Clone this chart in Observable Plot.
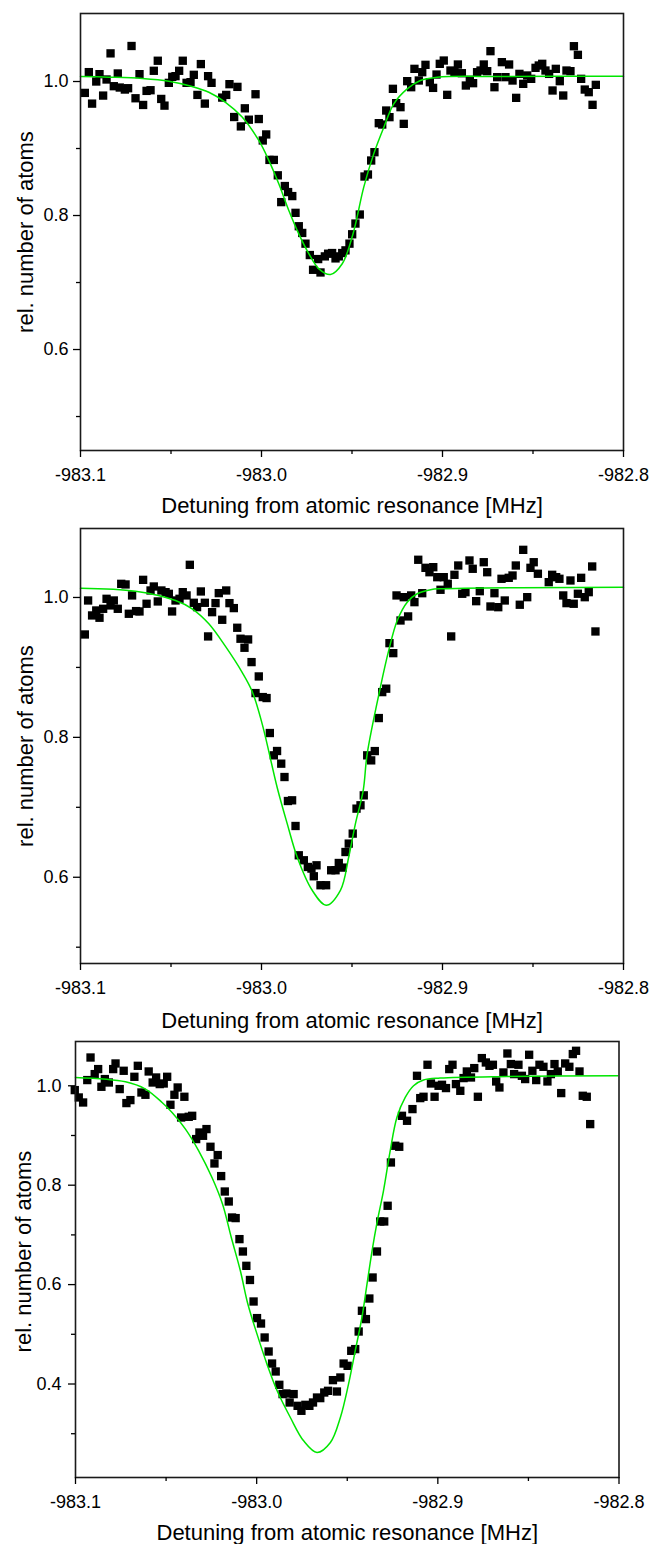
<!DOCTYPE html>
<html>
<head>
<meta charset="utf-8">
<script src="https://cdn.jsdelivr.net/npm/d3@7"></script>
<script src="https://cdn.jsdelivr.net/npm/@observablehq/plot@0.6"></script>
<style>
  html, body { margin: 0; padding: 0; background: #fff; }
  #chart svg { display: block; }
</style>
</head>
<body>
<div id="chart"></div>
<script>
// ---------- shared labels / ticks ----------
const xTitle = "Detuning from atomic resonance [MHz]";
const yTitle = "rel. number of atoms";
const xMajorTicks = [-983.1, -983.0, -982.9, -982.8];
const xMinorTicks = [-983.05, -982.95, -982.85];
const xDomain = [-983.1, -982.8];

// ---------- panel 1 ----------
const p1x = [-983.0976,-983.0954,-983.0936,-983.0913,-983.0895,-983.0875,-983.0856,-983.0834,-983.0816,-983.0794,
-983.0783,-983.0755,-983.0737,-983.0718,-983.0696,-983.0674,-983.0654,-983.0635,-983.0613,-983.0595,
-983.0573,-983.0554,-983.0536,-983.0512,-983.0493,-983.0475,-983.0455,-983.0435,-983.0414,-983.0392,
-983.0374,-983.0354,-983.0335,-983.0313,-983.0295,-983.0276,-983.0217,-983.0195,-983.0177,-983.0151,
-983.0133,-983.0114,-983.0092,-983.0070,-983.0033,-983.0015,-982.9993,-982.9974,-982.9956,-982.9932,
-982.9910,-982.9891,-982.9871,-982.9853,-982.9830,-982.9812,-982.9794,-982.9775,-982.9757,-982.9733,
-982.9715,-982.9687,-982.9674,-982.9650,-982.9632,-982.9610,-982.9591,-982.9573,-982.9554,-982.9536,
-982.9514,-982.9499,-982.9481,
-982.9457,-982.9431,-982.9412,-982.9394,-982.9376,-982.9352,-982.9333,-982.9311,-982.9293,-982.9274,
-982.9256,-982.9232,-982.9214,-982.9195,-982.9173,-982.9155,-982.9131,-982.9112,-982.9094,-982.9070,
-982.9052,-982.9033,-982.9015,-982.8993,-982.8974,-982.8956,-982.8934,-982.8915,-982.8893,-982.8871,
-982.8849,-982.8831,-982.8809,-982.8790,-982.8772,-982.8753,-982.8735,-982.8713,-982.8698,-982.8672,
-982.8652,-982.8632,-982.8613,-982.8593,-982.8575,-982.8554,-982.8532,-982.8510,-982.8486,-982.8468,
-982.8449,-982.8431,-982.8411,-982.8392,-982.8374,-982.8352,-982.8333,-982.8315,-982.8293,-982.8274,
-982.8252,-982.8234,-982.8214,-982.8192,-982.8171,-982.8153];
const p1y = [0.983,1.014,0.967,1.000,1.011,0.979,1.003,1.042,0.993,1.012,
0.991,0.988,0.990,1.053,0.975,1.011,0.965,0.986,0.987,1.016,
1.031,0.974,0.964,0.998,1.007,1.008,1.016,1.031,0.998,0.999,
1.010,0.980,1.026,0.967,1.008,0.998,0.976,0.980,0.996,0.947,
0.992,0.933,0.960,0.943,0.981,0.944,0.912,0.921,0.883,0.883,
0.860,0.820,0.844,0.835,0.829,0.804,0.784,0.774,0.758,0.741,
0.719,0.735,0.715,0.739,0.743,0.744,0.736,0.739,0.744,0.748,
0.758,0.772,0.788,
0.8015,0.8582,0.8612,0.8821,0.8945,0.9378,0.9358,0.9567,0.9468,0.9891,
0.9677,0.9617,0.9368,1.0005,0.9915,1.0189,1.0015,1.0139,1.0249,0.999,
0.9905,1.0104,1.0264,1.0313,0.9801,1.0164,1.0139,1.0254,1.0124,0.994,
1.0025,0.9975,1.0139,1.0164,1.0254,1.0154,1.0453,0.9915,1.0065,1.0289,
1.0065,1.0254,1.0015,0.9756,1.0114,0.9965,1.009,1.004,1.0204,1.0239,
1.0264,1.0164,1.0114,0.9866,1.0189,1.0005,0.9791,1.0164,1.0154,1.0527,
1.0398,1.004,0.988,0.9841,0.9652,0.995];
const f1x = [-983.1,-983.0843,-983.0659,-983.0512,-983.0383,-983.0291,-983.0199,-983.0107,-983.0015,-982.9959,
-982.9904,-982.9849,-982.9794,-982.9738,-982.9683,-982.9619,-982.9554,-982.9495,-982.9435,-982.9380,
-982.9324,-982.9269,-982.9195,-982.9122,-982.9029,-982.8643,-982.8];
const f1y = [1.0075,1.0065,1.0045,1.0005,0.9925,0.984,0.969,0.947,0.912,0.882,
0.847,0.8075,0.7726,0.7428,0.7204,0.7119,0.728,0.772,0.8423,0.892,
0.9318,0.9667,0.989,1.0015,1.0065,1.0075,1.008];

// ---------- panel 2 ----------
const p2x = [-983.0976,-983.0958,-983.0936,-983.0913,-983.0895,-983.0875,-983.0856,-983.0834,-983.0816,-983.0794,
-983.0775,-983.0751,-983.0733,-983.0715,-983.0693,-983.0674,-983.0654,-983.0635,-983.0613,-983.0595,
-983.0573,-983.0553,-983.0530,-983.0512,-983.0494,-983.0475,-983.0453,-983.0435,-983.0414,-983.0396,
-983.0374,-983.0356,-983.0335,-983.0313,-983.0295,-983.0273,-983.0254,-983.0236,-983.0217,-983.0195,
-983.0177,-983.0153,-983.0134,-983.0116,-983.0094,-983.0074,-983.0055,-983.0033,-983.0015,-982.9993,
-982.9972,-982.9954,-982.9932,-982.9914,-982.9891,-982.9873,-982.9854,-982.9831,
-982.9812,-982.9794,-982.9766,-982.9744,-982.9724,-982.9711,-982.9696,-982.9674,-982.9643,-982.9615,
-982.9591,-982.9573,-982.9551,-982.9536,-982.9518,-982.9496,-982.9475,-982.9453,-982.9435,
-982.9416,-982.9394,-982.9374,-982.9352,-982.9333,-982.9311,-982.9293,-982.9272,-982.9254,-982.9232,
-982.9214,-982.9190,-982.9173,-982.9155,-982.9134,-982.9112,-982.9094,-982.9072,-982.9051,-982.9029,
-982.9011,-982.8993,-982.8971,-982.8952,-982.8934,-982.8913,-982.8891,-982.8873,-982.8851,-982.8833,
-982.8814,-982.8794,-982.8772,-982.8753,-982.8735,-982.8713,-982.8692,-982.8674,-982.8656,-982.8634,
-982.8613,-982.8595,-982.8573,-982.8554,-982.8532,-982.8514,-982.8496,-982.8473,-982.8413,-982.8394,
-982.8372,-982.8354,-982.8333,-982.8315,-982.8293,-982.8275,-982.8252,-982.8234,-982.8214,-982.8192,
-982.8173,-982.8155];
const p2y = [0.9471,0.9957,0.9743,0.9814,0.971,0.9838,0.9981,0.9886,0.9957,0.9838,
1.0195,1.0186,0.9767,1.0029,0.9805,0.98,1.0252,0.991,1.01,1.0157,
0.9943,1.01,1.0076,1.0052,0.98,0.9957,0.9981,1.0076,1.0029,1.0467,
0.9924,0.9862,1.0086,0.9924,0.9443,0.979,0.9919,1.0062,0.9681,1.01,
0.9919,0.9848,0.9567,0.941,0.9281,0.94,0.9076,0.8633,0.8871,0.8576,
0.8562,0.8062,0.7743,0.7805,0.7624,0.7433,0.709,0.71,
0.6733,0.6314,0.6243,0.6147,0.6124,0.6014,0.6171,0.5886,0.5886,0.61,
0.61,0.6204,0.6138,0.6361,0.6481,0.6624,0.6981,0.7029,0.7171,
0.7743,0.7671,0.7804,0.8276,0.8647,0.8696,0.9347,0.9204,1.0029,0.9671,
1.0004,0.9729,1.0029,0.9933,1.0539,1.0061,1.0424,1.0361,1.0433,1.029,
1.011,1.029,1.0196,0.9443,1.0324,1.0457,1.0053,1.0076,1.0529,1.041,
0.9947,1.009,1.0504,1.0361,0.9871,1.0061,0.9861,1.0267,0.9957,1.0281,
1.0314,1.0457,0.9896,1.0681,1.0004,1.0424,1.0504,1.0339,1.0219,1.0324,
1.029,1.0267,1.0029,0.9919,1.0243,0.991,1.0053,1.0281,1.0004,1.0076,
1.0443,0.9514];
const f2x = [-983.1,-983.0696,-983.0475,-983.0383,-983.0291,-983.0199,-983.0107,-983.0052,-982.9996,-982.9913,
-982.9858,-982.9803,-982.9720,-982.9643,-982.9564,-982.9518,-982.9481,-982.9438,-982.9416,-982.9343,
-982.9297,-982.9250,-982.9195,-982.9140,-982.9066,-982.9011,-982.8];
const f2y = [1.0133,1.009,0.9957,0.9838,0.9624,0.930,0.893,0.866,0.819,0.728,
0.6767,0.629,0.5814,0.56,0.5814,0.629,0.6767,0.7243,0.7767,0.8719,
0.9243,0.9671,0.9933,1.0053,1.011,1.0124,1.0147];

// ---------- panel 3 ----------
const p3x = [-983.1004,-983.0982,-983.0958,-983.0935,-983.0917,-983.0894,-983.0875,-983.0857,-983.0838,-983.0816,
-983.0792,-983.0779,-983.0756,-983.0734,-983.0719,-983.0697,-983.0675,-983.0656,-983.0636,-983.0614,
-983.0596,-983.0574,-983.0555,-983.0535,-983.0513,-983.0494,-983.0476,-983.0454,-983.0436,-983.0417,
-983.0399,-983.0375,-983.0356,-983.0334,-983.0316,-983.0296,-983.0277,-983.0255,-983.0233,-983.0215,
-983.0196,-983.0176,-983.0154,-983.0136,-983.0116,-983.0095,-983.0076,-983.0057,-983.0037,-983.0017,
-982.9998,-982.9976,-982.9956,-982.9934,-982.9915,-982.9895,-982.9875,-982.9857,-982.9836,-982.9818,
-982.9796,-982.9774,-982.9753,-982.9731,-982.9709,-982.9689,-982.9667,-982.9649,-982.9627,-982.9606,
-982.9579,-982.9557,-982.9538,-982.9520,-982.9498,-982.9478,-982.9456,-982.9437,-982.9419,-982.9397,
-982.9378,-982.9360,-982.9336,-982.9318,-982.9296,-982.9277,-982.9259,-982.9235,-982.9213,-982.9198,
-982.9170,-982.9140,-982.9115,-982.9097,-982.9079,-982.9057,-982.9038,-982.9018,-982.8996,-982.8977,
-982.8955,-982.8937,-982.8919,-982.8900,-982.8876,-982.8858,-982.8840,-982.8817,-982.8799,-982.8779,
-982.8757,-982.8735,-982.8715,-982.8696,-982.8678,-982.8660,-982.8638,-982.8616,-982.8597,-982.8579,
-982.8555,-982.8536,-982.8518,-982.8496,-982.8478,-982.8457,-982.8439,-982.8417,-982.8395,-982.8376,
-982.8356,-982.8338,-982.8319,-982.8297,-982.8274,-982.8255,-982.8237,-982.8218,-982.8200,-982.8178,
-982.8159];
const p3y = [0.9913,0.9765,0.9664,1.0115,1.0569,1.0235,1.0336,0.998,1.0135,1.0066,
1.0336,1.0449,0.9934,1.0302,0.9652,0.9712,1.0181,1.0402,0.9865,0.9819,
1.0288,1.0066,1.0167,1.0034,1.0046,1.0181,0.9618,0.9819,0.9966,0.9362,
0.9779,0.9376,0.9396,0.8928,0.906,0.8994,0.9129,0.8773,0.8437,0.8606,
0.8183,0.7873,0.7672,0.735,0.7338,0.6915,0.6666,0.6378,0.6093,0.566,
0.5326,0.5217,0.4936,0.4654,0.4412,0.4252,0.3984,0.3797,0.3809,0.3628,
0.3797,0.3561,0.3461,0.3581,0.3561,0.3628,0.3728,0.3716,0.3829,0.3863,
0.4078,0.3849,0.4131,0.4412,0.4366,0.4668,0.4702,0.5056,0.5473,0.5306,
0.572,0.6143,0.6666,0.727,0.727,0.7586,0.8457,0.8793,0.8773,0.9396,
0.9296,0.9531,1.0201,0.9752,0.9779,1.0423,1.0046,0.9779,1.0,1.002,
0.9954,1.0336,1.0423,1.0034,0.9899,1.0155,1.0288,1.0167,1.0356,0.9779,
1.0557,1.0469,1.0402,1.0423,1.0087,0.9966,1.0268,1.065,1.0437,1.0235,
1.0423,1.0201,1.0135,1.0624,1.0302,1.0115,1.0423,1.0382,1.0087,1.0235,
1.0437,1.0288,0.9853,1.0449,1.0382,1.0638,1.0704,1.0288,0.9799,0.9779,
0.9229];
const f3x = [-983.1,-983.0724,-983.0614,-983.0522,-983.0467,-983.0393,-983.0320,-983.0246,-983.0189,-983.0140,
-983.0090,-983.0049,-982.9998,-982.9943,-982.9887,-982.9814,-982.9741,-982.9667,-982.9593,-982.9538,
-982.9493,-982.9456,-982.9419,-982.9391,-982.9363,-982.9336,-982.9300,-982.9263,-982.9226,-982.9180,
-982.9134,-982.9079,-982.8987,-982.8619,-982.8007];
const f3y = [1.0167,1.008,0.9934,0.9664,0.9463,0.9129,0.8692,0.8149,0.7626,0.6948,
0.6278,0.5614,0.5004,0.44,0.3863,0.3326,0.2857,0.2622,0.2823,0.3326,
0.3998,0.4668,0.5338,0.601,0.668,0.7243,0.7887,0.8692,0.9362,0.9765,
1.0,1.0115,1.0155,1.0187,1.0201];

// ---------- builder ----------
const zipXY = (xs, ys) => xs.slice(0, Math.min(xs.length, ys.length)).map((x, i) => ({x, y: ys[i]}));
const fmt1 = d => d.toFixed(1);

function panel(o) {
  return Plot.plot({
    width: 649,
    height: o.height,
    marginTop: o.marginTop,
    marginBottom: o.marginBottom,
    marginLeft: o.marginLeft,
    marginRight: o.marginRight,
    style: {fontFamily: "'Liberation Sans', Arial, Helvetica, sans-serif", color: "black", background: "white", overflow: "visible"},
    x: {domain: xDomain, axis: null},
    y: {domain: o.yDomain, axis: null},
    marks: [
      Plot.dot(zipXY(o.px, o.py), {x: "x", y: "y", symbol: "square", r: 4.7, fill: "black", stroke: "none"}),
      Plot.line(zipXY(o.fx, o.fy), {x: "x", y: "y", stroke: "#00e600", strokeWidth: 1.5, curve: "catmull-rom"}),
      Plot.frame({stroke: "#1a1a1a", strokeWidth: 1.6}),
      Plot.axisX({ticks: xMajorTicks, tickSize: 7, tickPadding: 11, fontSize: 18, tickFormat: fmt1, strokeWidth: 1.3, label: null}),
      Plot.axisX({ticks: xMinorTicks, tickSize: 4, tickFormat: () => "", strokeWidth: 1.3, label: null}),
      Plot.axisY({ticks: o.yMajor, tickSize: 7, tickPadding: o.yPad, fontSize: 18, tickFormat: fmt1, strokeWidth: 1.3, label: null}),
      Plot.axisY({ticks: o.yMinor, tickSize: 4, tickFormat: () => "", strokeWidth: 1.3, label: null}),
      Plot.text([xTitle], {frameAnchor: "bottom", dy: o.xTitleDy, fontSize: 22, lineAnchor: "middle", textAnchor: "middle", fill: "black"}),
      Plot.text([yTitle], {frameAnchor: "left", dx: o.yTitleDx, dy: o.yTitleDy, rotate: -90, fontSize: 22, lineAnchor: "middle", textAnchor: "middle", fill: "black"})
    ]
  });
}

const chart = document.getElementById("chart");
chart.append(
  panel({height: 518, marginTop: 13, marginBottom: 68, marginLeft: 80, marginRight: 26,
         yDomain: [0.4493, 1.1015], yMajor: [0.6, 0.8, 1.0], yMinor: [0.5, 0.7, 0.9], yPad: 5,
         px: p1x, py: p1y, fx: f1x, fy: f1y, xTitleDy: 55, yTitleDx: -55, yTitleDy: 0}),
  panel({height: 514, marginTop: 10, marginBottom: 69, marginLeft: 80, marginRight: 26,
         yDomain: [0.4767, 1.0986], yMajor: [0.6, 0.8, 1.0], yMinor: [0.5, 0.7, 0.9], yPad: 5,
         px: p2x, py: p2y, fx: f2x, fy: f2y, xTitleDy: 57, yTitleDx: -55, yTitleDy: 0}),
  panel({height: 512, marginTop: 9, marginBottom: 67, marginLeft: 75, marginRight: 30.5,
         yDomain: [0.2119, 1.0891], yMajor: [0.4, 0.6, 0.8, 1.0], yMinor: [0.3, 0.5, 0.7, 0.9], yPad: 7,
         px: p3x, py: p3y, fx: f3x, fy: f3y, xTitleDy: 55, yTitleDx: -52, yTitleDy: -8})
);
</script>
</body>
</html>
